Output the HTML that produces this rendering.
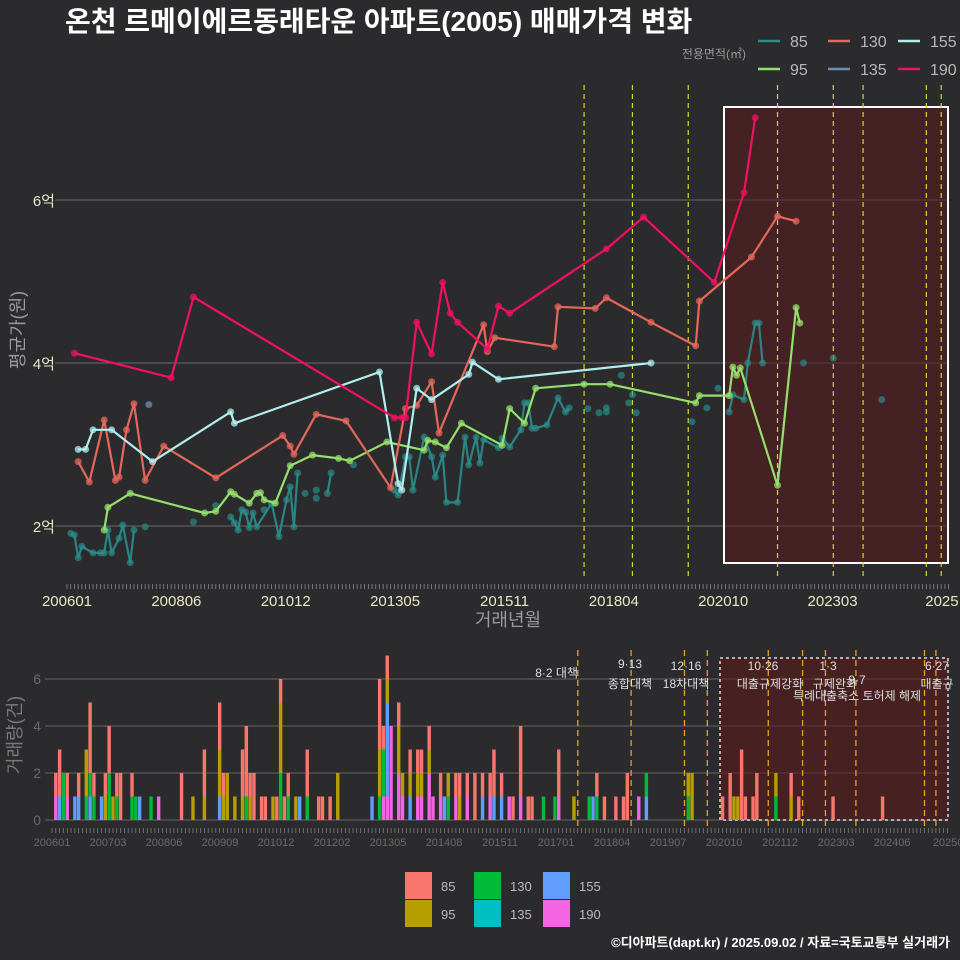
<!DOCTYPE html>
<html><head><meta charset="utf-8">
<style>
html,body{margin:0;padding:0;background:#2b2b2d;}
svg{display:block;font-family:"Liberation Sans","Noto Sans CJK KR",sans-serif;}
</style></head>
<body>
<svg id="c" width="960" height="960" viewBox="0 0 960 960" xmlns="http://www.w3.org/2000/svg">
<rect width="960" height="960" fill="#2b2b2d"/>
<text x="65" y="31" fill="#ffffff" font-size="28" font-weight="bold">온천 르메이에르동래타운 아파트(2005) 매매가격 변화</text>
<g id="topPanel"></g>
<g id="botPanel"></g>
<text x="950" y="947" text-anchor="end" fill="#ffffff" font-size="13" font-weight="bold">©디아파트(dapt.kr) / 2025.09.02 / 자료=국토교통부 실거래가</text>
</svg>
<script>
// ---------- DATA (month index from 2006-01, price in 억) ----------
const s85Months=[1,2,3,4,7,9,10,11,12,14,15,17,18,44,45,46,47,48,49,50,51,55,57,59,60,61,62,70,71,88,89,91,92,93,96,98,99,101,102,105,107,108,110,111,112,116,117,119,122,123,124,125,126,129,132,134,135,178,179,182,183,185,186,187];
const s85Values=[1.91,1.89,1.61,1.75,1.67,1.67,1.67,1.95,1.67,1.85,2.01,1.55,1.95,2.11,2.04,1.95,2.20,2.17,1.98,2.16,1.99,2.28,1.87,2.32,2.48,1.99,2.65,2.40,2.65,2.44,2.38,2.85,2.85,2.44,3.09,2.85,2.60,2.87,2.29,2.29,3.09,2.75,3.09,2.77,3.06,2.96,3.08,2.97,3.18,3.51,3.51,3.20,3.20,3.24,3.57,3.40,3.45,3.40,3.61,3.55,4.00,4.49,4.49,4.00];
const s85DotMonths=[21,34,40,53,64,67,67,77,140,143,145,145,149,151,152,153,168,172,175,198,206,219];
const s85DotValues=[1.99,2.05,2.25,2.20,2.40,2.44,2.34,2.75,3.44,3.39,3.45,3.40,3.85,3.51,3.61,3.39,3.28,3.45,3.69,4.00,4.06,3.55];
const s95Months=[10,11,17,37,40,44,45,49,51,52,53,56,60,66,73,76,86,96,97,99,102,106,117,119,123,126,139,146,169,170,178,179,180,181,191,196,197];
const s95Values=[1.95,2.23,2.40,2.16,2.18,2.42,2.39,2.28,2.40,2.41,2.32,2.28,2.74,2.87,2.83,2.80,3.03,2.93,3.05,3.03,2.96,3.26,2.99,3.44,3.26,3.69,3.74,3.74,3.51,3.60,3.60,3.95,3.85,3.94,2.50,4.68,4.49];
const s130Months=[3,6,10,13,14,16,18,21,26,40,58,60,61,67,75,87,91,94,98,100,112,113,115,131,132,142,145,157,169,170,184,191,196];
const s130Values=[2.79,2.54,3.30,2.56,2.60,3.18,3.50,2.56,2.98,2.59,3.11,2.98,2.88,3.37,3.29,2.47,3.44,3.48,3.77,3.14,4.47,4.14,4.31,4.20,4.69,4.67,4.80,4.50,4.21,4.76,5.30,5.80,5.74];
const s135Months=[22];
const s135Values=[3.49];
const s155Months=[3,5,7,12,23,44,45,84,89,90,94,98,108,109,116,157];
const s155Values=[2.94,2.94,3.18,3.18,2.79,3.40,3.26,3.89,2.52,2.44,3.69,3.55,3.86,4.01,3.80,4.00];
const s190Months=[2,28,34,88,90,91,94,98,101,103,105,113,116,119,145,155,174,182,185];
const s190Values=[4.12,3.82,4.81,3.33,3.33,3.33,4.50,4.11,4.99,4.61,4.50,4.17,4.70,4.61,5.40,5.79,4.99,6.09,7.01];
const topTickLabels=["200601","200806","201012","201305","201511","201804","202010","202303","2025"];
const yTickValues=[2,4,6];
const yTickLabels=["2억","4억","6억"];
const policyMonthsTop=[139,152,167,191,206,214,231,235];
const barMonths=[1,2,3,4,6,7,9,10,11,13,14,15,16,17,18,21,22,23,26,28,34,37,40,44,45,46,48,50,51,52,53,55,56,58,59,60,61,62,64,65,67,70,71,73,75,84,86,87,88,89,91,92,94,96,97,99,100,102,103,104,106,107,109,111,113,115,116,118,120,121,123,125,126,129,132,133,137,141,142,143,145,148,150,151,154,156,167,168,176,178,179,180,181,182,184,185,190,194,196,205,218];
const c85 =[1,2,0,1,0,1,0,3,1,0,1,2,0,1,2,1,0,0,0,0,2,0,2,2,1,0,0,2,3,1,2,1,1,0,1,1,1,1,0,0,2,1,1,1,0,0,3,1,1,0,1,0,1,1,1,1,0,1,0,0,1,1,1,2,1,1,2,1,0,1,3,1,1,0,0,2,0,0,0,1,1,1,1,2,0,0,0,0,1,2,0,0,3,1,1,2,0,1,1,1,1];
const c95 =[0,0,0,0,0,0,2,0,0,0,1,0,1,0,0,0,0,0,0,0,0,1,1,2,1,2,1,1,0,1,0,0,0,1,0,3,0,0,1,0,0,0,0,0,2,0,2,0,1,0,2,1,1,1,1,1,0,0,0,1,0,1,0,0,0,0,0,0,0,0,0,0,0,0,0,0,1,0,0,0,0,0,0,0,0,0,1,2,0,0,1,1,0,0,0,0,1,1,0,0,0];
const c130=[0,0,2,0,0,0,1,1,1,0,0,2,0,1,0,1,1,0,1,0,0,0,0,0,0,0,0,0,1,0,0,0,0,0,0,2,0,1,0,0,1,0,0,0,0,0,1,2,0,0,0,0,0,0,0,0,0,0,0,1,0,0,0,0,0,0,0,0,0,0,0,0,0,1,1,0,0,1,0,1,0,0,0,0,0,1,1,0,0,0,0,0,0,0,0,0,1,0,0,0,0];
const c135=[0,0,0,0,0,0,0,0,0,0,0,0,0,0,0,0,0,0,0,0,0,0,0,0,0,0,0,0,0,0,0,0,0,0,0,0,0,0,0,0,0,0,0,0,0,0,0,0,0,0,0,0,0,0,0,0,0,0,0,0,0,0,0,0,0,0,0,0,0,0,0,0,0,0,0,0,0,0,0,0,0,0,0,0,0,0,0,0,0,0,0,0,0,0,0,0,0,0,0,0,0];
const c155=[0,1,0,0,1,1,0,1,0,1,0,0,0,0,0,0,0,1,0,0,0,0,0,1,0,0,0,0,0,0,0,0,0,0,0,0,0,0,0,1,0,0,0,0,0,1,0,0,4,0,0,0,1,0,0,0,0,0,1,0,0,0,0,0,1,0,1,1,0,0,0,0,0,0,0,0,0,0,1,0,0,0,0,0,0,1,0,0,0,0,0,0,0,0,0,0,0,0,0,0,0];
const c190=[1,0,0,1,0,0,0,0,0,0,0,0,0,0,0,0,0,0,0,1,0,0,0,0,0,0,0,0,0,0,0,0,0,0,0,0,0,0,0,0,0,0,0,0,0,0,0,1,1,4,2,1,0,1,1,2,1,1,0,0,1,0,1,0,0,1,0,0,1,0,1,0,0,0,0,1,0,0,0,0,0,0,0,0,1,0,0,0,0,0,0,0,0,0,0,0,0,0,0,0,0];
const botTickLabels=["200601","200703","200806","200909","201012","201202","201305","201408","201511","201701","201804","201907","202010","202112","202303","202406","20250"];
const botYValues=[0,2,4,6];
const policyMonthsBot=[138,152,166,172,188,197,203,211,229,232];

const NS="http://www.w3.org/2000/svg";
function mk(tag,attrs,parent){const e=document.createElementNS(NS,tag);for(const k in attrs)e.setAttribute(k,attrs[k]);parent.appendChild(e);return e;}
const topG=document.getElementById('topPanel'), botG=document.getElementById('botPanel');
const xt=m=>67+m*3.72;
const yt=v=>526-(v-2)*81.5;
const xb=m=>52+m*3.81;
const yb=v=>820-v*23.5;

yTickValues.forEach((v,i)=>{
  const g=mk('line',{x1:55,x2:948,y1:yt(v),y2:yt(v),stroke:'#6a6a6a','stroke-width':1},topG);
  
  
  const t=mk('text',{x:55,y:yt(v)+6,'text-anchor':'end',fill:'#e8e8c8','font-size':15},topG);
  t.textContent=yTickLabels[i];
  
  
});
const hr=mk('rect',{x:724,y:107,width:224,height:456,fill:'#5a1a1a','fill-opacity':0.55,stroke:'#ffffff','stroke-width':2},topG);


policyMonthsTop.forEach(m=>{
  const l=mk('line',{x1:xt(m),x2:xt(m),y1:85,y2:578,stroke:'#d8d820','stroke-width':1.2,'stroke-dasharray':'5,4'},topG);
  
  
});
for(let m=0;m<=237;m++){
  mk('line',{x1:xt(m),x2:xt(m),y1:584,y2:589,stroke:'#888','stroke-width':0.8},topG);
}
topTickLabels.forEach((s,i)=>{
  const t=mk('text',{x:xt(i*29.4),y:606,'text-anchor':'middle',fill:'#e8e8c8','font-size':15},topG);
  t.textContent=s;
  
  
});
let tt=mk('text',{x:508,y:626,'text-anchor':'middle',fill:'#9a9a9a','font-size':18},topG);
tt.textContent='거래년월';


tt=mk('text',{x:0,y:0,'text-anchor':'middle',fill:'#9a9a9a','font-size':18,transform:'translate(24,330) rotate(-90)'},topG);
tt.textContent='평균가(원)';



function series(months,vals,color,name,gap,alpha){
  const g=mk('g',{},topG);
  
  
  if(gap>=0 && months.length>1){
    let d='';
    for(let i=0;i<months.length;i++){
      const brk=i===0||(gap>0&&months[i]-months[i-1]>gap);
      d+=(brk?'M':'L')+xt(months[i]).toFixed(1)+','+yt(vals[i]).toFixed(1);
    }
    const p=mk('path',{d:d,fill:'none',stroke:color,'stroke-width':2.2,'stroke-linejoin':'round','stroke-opacity':alpha},g);
    
    
  }
  for(let i=0;i<months.length;i++){
    const c=mk('circle',{cx:xt(months[i]),cy:yt(vals[i]),r:3.5,fill:color,'fill-opacity':0.75*alpha},g);
    
    
  }
}
series(s85Months,s85Values,'#2a8f8c','series-85',6,0.9);
series(s85DotMonths,s85DotValues,'#2a8f8c','series-85-extra',-1,0.9);
series(s95Months,s95Values,'#95e06c','series-95',0,1);
series(s130Months,s130Values,'#e5675a','series-130',0,1);
series(s135Months,s135Values,'#6f8fb0','series-135',-1,1);
series(s155Months,s155Values,'#b0eef0','series-155',0,1);
series(s190Months,s190Values,'#f0125f','series-190',0,1);

const legItems=[['85','#2a8f8c'],['130','#e5675a'],['155','#b0eef0'],['95','#95e06c'],['135','#6f8fb0'],['190','#f0125f']];
let lt=mk('text',{x:746,y:58,'text-anchor':'end',fill:'#9a9a9a','font-size':12},topG);
lt.textContent='전용면적(㎡)';


legItems.forEach((it,i)=>{
  const col=i%3,row=Math.floor(i/3);
  const x=758+col*70,y=41+row*28;
  const g=mk('g',{},topG);
  
  
  mk('line',{x1:x,x2:x+22,y1:y,y2:y,stroke:it[1],'stroke-width':2.5},g);
  const t=mk('text',{x:x+32,y:y+6,fill:'#b8b8b8','font-size':16},g);
  t.textContent=it[0];
});

botYValues.forEach(v=>{
  const l=mk('line',{x1:45,x2:948,y1:yb(v),y2:yb(v),stroke:'#666','stroke-width':1},botG);
  
  
  const t=mk('text',{x:41,y:yb(v)+5,'text-anchor':'end',fill:'#6a6a6a','font-size':14},botG);
  t.textContent=String(v);
  
  
});
tt=mk('text',{x:0,y:0,'text-anchor':'middle',fill:'#7a7a7a','font-size':18,transform:'translate(21,735) rotate(-90)'},botG);
tt.textContent='거래량(건)';


const br=mk('rect',{x:720,y:658,width:228,height:162,fill:'#5a1a1a','fill-opacity':0.6,stroke:'#dddddd','stroke-width':1.5,'stroke-dasharray':'3,3'},botG);


const stackCols=[[c190,'#f564e3'],[c155,'#619cff'],[c135,'#00bfc4'],[c130,'#00ba38'],[c95,'#b79f00'],[c85,'#f8766d']];
barMonths.forEach((m,i)=>{
  let acc=0;
  stackCols.forEach(sc=>{
    const n=sc[0][i];
    if(n>0){
      const r=mk('rect',{x:xb(m)-1.7,y:yb(acc+n),width:3.4,height:n*23.5,fill:sc[1]},botG);
      
      
      acc+=n;
    }
  });
});
policyMonthsBot.forEach(m=>{
  const l=mk('line',{x1:xb(m),x2:xb(m),y1:650,y2:828,stroke:'#e8a020','stroke-width':1.3,'stroke-dasharray':'6,4'},botG);
  
  
});
for(let m=0;m<=235;m++){mk('line',{x1:xb(m),x2:xb(m),y1:828,y2:833,stroke:'#888','stroke-width':0.7},botG);}
botTickLabels.forEach((s,i)=>{
  const t=mk('text',{x:xb(i*14.7),y:846,'text-anchor':'middle',fill:'#6a6a6a','font-size':11},botG);
  t.textContent=s;
  
  
});
const ann=[[578,677,'8·2 대책','end'],[630,668,'9·13','middle'],[630,688,'종합대책','middle'],[686,670,'12·16','middle'],[686,688,'18차대책','middle'],[763,670,'10·26','middle'],[770,688,'대출규제강화','middle'],[828,670,'1·3','middle'],[835,688,'규제완화','middle'],[857,684,'9·7','middle'],[857,700,'특례대출축소 토허제 해제','middle'],[937,670,'6·27','middle'],[937,688,'대출규','middle']];
ann.forEach(a=>{
  const t=mk('text',{x:a[0],y:a[1],'text-anchor':a[3],fill:'#dddddd','font-size':12},botG);
  t.textContent=a[2];
  
  
});
const bl=[['85','#f8766d'],['95','#b79f00'],['130','#00ba38'],['135','#00bfc4'],['155','#619cff'],['190','#f564e3']];
bl.forEach((it,i)=>{
  const col=Math.floor(i/2),row=i%2;
  const x=405+col*69,y=872+row*28;
  const g=mk('g',{},botG);
  
  
  mk('rect',{x:x,y:y,width:27,height:27,fill:it[1]},g);
  const t=mk('text',{x:x+36,y:y+19,fill:'#bbbbbb','font-size':13},g);
  t.textContent=it[0];
});
</script>
</body></html>
